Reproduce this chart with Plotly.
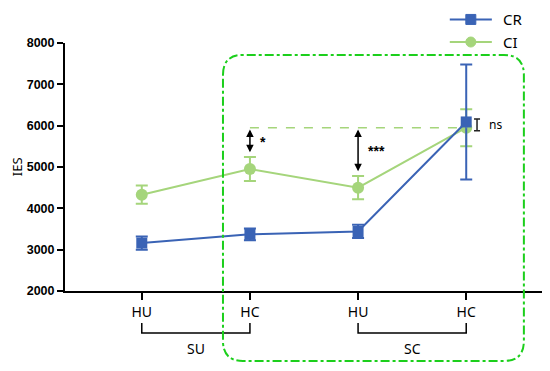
import plotly.graph_objects as go

# chart values
positions = [1, 2, 3, 4]
tick_labels = ["HU", "HC", "HU", "HC"]
group_labels = ["SU", "SC"]
cr_mean = [3160, 3370, 3440, 6090]
cr_err = [160, 140, 160, 1390]
ci_mean = [4330, 4950, 4500, 5950]
ci_err = [220, 290, 280, 450]

CR_COLOR = "#3a63b5"
CI_COLOR = "#a5d57b"
BOX_COLOR = "#1ccf1c"
TEXT_FONT = "Noto Sans"

# plot area size in px, used for shapes drawn in paper coords
PW, PH = 478, 248

fig = go.Figure()

fig.add_trace(
    go.Scatter(
        x=positions,
        y=ci_mean,
        name="CI",
        mode="lines+markers",
        line=dict(color=CI_COLOR, width=2),
        marker=dict(symbol="circle", size=12, color=CI_COLOR),
        error_y=dict(type="data", array=ci_err, color=CI_COLOR, thickness=2, width=6),
    )
)
fig.add_trace(
    go.Scatter(
        x=positions,
        y=cr_mean,
        name="CR",
        mode="lines+markers",
        line=dict(color=CR_COLOR, width=2),
        marker=dict(symbol="square", size=11, color=CR_COLOR),
        error_y=dict(type="data", array=cr_err, color=CR_COLOR, thickness=2, width=6),
    )
)

# "ns" bracket next to the last pair
fig.add_trace(
    go.Scatter(
        x=[positions[3] + 0.1],
        y=[(cr_mean[3] + ci_mean[3]) / 2],
        mode="markers",
        marker=dict(size=1, color="rgba(0,0,0,0)"),
        error_y=dict(type="data", array=[140], color="#222222", thickness=1.5, width=3),
        hoverinfo="skip",
    )
)

# dashed reference line at the CI level of the last point
fig.add_shape(
    type="line",
    xref="x", yref="y",
    x0=positions[1], x1=positions[3],
    y0=ci_mean[3], y1=ci_mean[3],
    line=dict(color=CI_COLOR, width=1.5, dash="dash"),
)

# double-headed significance arrows
for xi, label in [(1, "*"), (2, "***")]:
    top = ci_mean[3] - 40
    bottom = ci_mean[xi] + ci_err[xi] + 80
    fig.add_annotation(
        x=positions[xi], y=top, ax=positions[xi], ay=bottom,
        xref="x", yref="y", axref="x", ayref="y",
        text="", showarrow=True, arrowhead=2, arrowside="end+start",
        arrowsize=1, arrowwidth=1.5, arrowcolor="black",
    )
    fig.add_annotation(
        x=positions[xi] + 0.07, y=(top + bottom) / 2,
        xref="x", yref="y", text="<b>" + label + "</b>", showarrow=False,
        xanchor="left", font=dict(family="Liberation Sans", size=14, color="black"),
    )

fig.add_annotation(
    x=positions[3] + 0.19, y=(cr_mean[3] + ci_mean[3]) / 2,
    xref="x", yref="y", text="ns", showarrow=False, xanchor="left",
    font=dict(family=TEXT_FONT, size=12, color="black"),
)

# group brackets under the x axis
for i, label in enumerate(group_labels):
    xa, xb = positions[2 * i], positions[2 * i + 1]
    fig.add_shape(
        type="path", xref="x", yref="paper",
        path=f"M {xa},-0.129 L {xa},-0.169 L {xb},-0.169 L {xb},-0.129",
        line=dict(color="black", width=1.5),
    )
    fig.add_annotation(
        x=(xa + xb) / 2, y=-0.23, xref="x", yref="paper", text=label,
        xanchor="center", yanchor="middle",
        showarrow=False, font=dict(family=TEXT_FONT, size=14, color="black"),
    )

# dash-dot rounded box around the HC / SC region (paper coords)
x0, x1, y0, y1 = 0.3305, 0.960, -0.282, 0.952
rx, ry = 20 / PW, 20 / PH
box = (
    f"M {x0},{y1 - ry} Q {x0},{y1} {x0 + rx},{y1} L {x1 - rx},{y1} "
    f"Q {x1},{y1} {x1},{y1 - ry} L {x1},{y0 + ry} Q {x1},{y0} {x1 - rx},{y0} "
    f"L {x0 + rx},{y0} Q {x0},{y0} {x0},{y0 + ry} Z"
)
fig.add_shape(
    type="path", xref="paper", yref="paper", path=box,
    line=dict(color=BOX_COLOR, width=2, dash="dashdot"),
)

# hand-drawn legend in the top right corner
legend_rows = [("CR", CR_COLOR, "rect", 1.095), ("CI", CI_COLOR, "circle", 1.004)]
lx0, lx1, lxm, ltx = 0.805, 0.893, 0.849, 0.913
for name, color, symbol, ly in legend_rows:
    fig.add_shape(
        type="line", xref="paper", yref="paper",
        x0=lx0, x1=lx1, y0=ly, y1=ly, line=dict(color=color, width=2),
    )
    hw, hh = 5 / PW, 5 / PH
    fig.add_shape(
        type=symbol, xref="paper", yref="paper",
        x0=lxm - hw, x1=lxm + hw, y0=ly - hh, y1=ly + hh,
        line=dict(color=color, width=1), fillcolor=color,
    )
    fig.add_annotation(
        x=ltx, y=ly, xref="paper", yref="paper", text=name,
        xanchor="left", yanchor="middle", showarrow=False,
        font=dict(family=TEXT_FONT, size=15, color="black"),
    )

fig.add_annotation(
    x=-0.1, y=0.5, xref="paper", yref="paper", text="IES", textangle=-90,
    xanchor="center", yanchor="middle",
    showarrow=False, font=dict(family=TEXT_FONT, size=13, color="black"),
)

# page body adds an 8px margin, so the figure is 8px smaller and shifted
fig.update_layout(
    width=542,
    height=363,
    margin=dict(l=57, r=7, t=35, b=80, autoexpand=False),
    plot_bgcolor="white",
    paper_bgcolor="white",
    showlegend=False,
    xaxis=dict(
        range=[0.29, 4.71],
        tickvals=positions,
        ticktext=tick_labels,
        showline=True, linecolor="black", linewidth=2,
        ticks="outside", ticklen=7, tickwidth=2, tickcolor="black",
        tickfont=dict(family=TEXT_FONT, size=14, color="black"),
        showgrid=False, zeroline=False,
    ),
    yaxis=dict(
        range=[2000, 8000],
        tickvals=[2000, 3000, 4000, 5000, 6000, 7000, 8000],
        showline=True, linecolor="black", linewidth=2,
        ticks="outside", ticklen=6, tickwidth=2, tickcolor="black",
        tickfont=dict(family="Liberation Sans", size=12.5, color="black", weight="bold"),
        showgrid=False, zeroline=False,
    ),
)

fig.write_html("out.html")
